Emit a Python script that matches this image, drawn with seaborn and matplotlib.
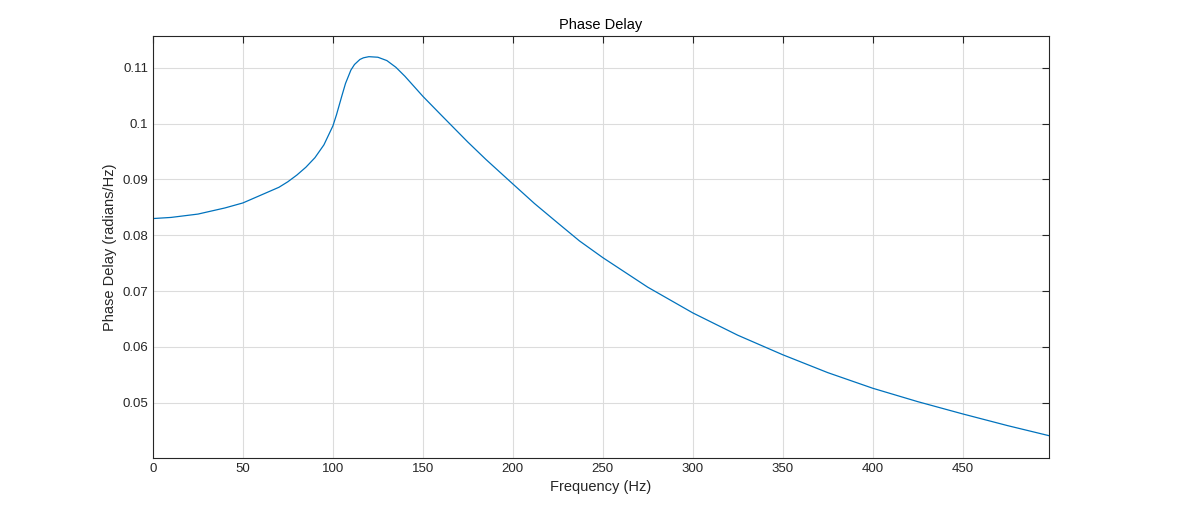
import matplotlib
matplotlib.use("Agg")
import matplotlib.pyplot as plt
import seaborn as sns
import pandas as pd

freq = [0, 10, 25, 40, 50, 60, 70, 75, 80, 85, 90, 95, 100, 102, 105, 107, 110, 112, 115, 117, 120, 125, 130, 135, 140, 145, 150, 160, 175, 185, 200, 212, 225, 237, 250, 275, 300, 325, 350, 375, 400, 425, 450, 475, 498]
delay = [0.0830, 0.0832, 0.0838, 0.0849, 0.0858, 0.0872, 0.0886, 0.0896, 0.0908, 0.0922, 0.0939, 0.0962, 0.0996, 0.1016, 0.1050, 0.1072, 0.1096, 0.1106, 0.1115, 0.1118, 0.1120, 0.1119, 0.1113, 0.1101, 0.1085, 0.1067, 0.1049, 0.1016, 0.0967, 0.0936, 0.0892, 0.0857, 0.0822, 0.0790, 0.0760, 0.0707, 0.0661, 0.0621, 0.0586, 0.0554, 0.0526, 0.0502, 0.0480, 0.0459, 0.0441]

df = pd.DataFrame({"f": freq, "d": delay})
sns.set_style("white")
plt.rcParams['font.family'] = ['Liberation Sans', 'DejaVu Sans']
fig = plt.figure(figsize=(11.84, 5.11), dpi=100)
ax = fig.add_axes([0.1292, 0.1037, 0.7568, 0.8258])
sns.lineplot(data=df, x="f", y="d", ax=ax, color="#0072BD", linewidth=0.9)
ax.set_xlim(0, 498)
ax.set_ylim(0.0401, 0.1157)
ax.set_xticks(range(0, 451, 50))
ax.set_yticks([0.05, 0.06, 0.07, 0.08, 0.09, 0.1, 0.11])
ax.set_yticklabels(["0.05", "0.06", "0.07", "0.08", "0.09", "0.1", "0.11"])
ax.grid(True, color="#dcdcdc", linewidth=0.8)
ax.tick_params(direction="in", top=True, right=True, labelsize=9.5, colors="#262626", length=5)
for s in ax.spines.values():
    s.set_color("#262626"); s.set_linewidth(0.8)
ax.set_xlabel("Frequency (Hz)", fontsize=10.5, color="#262626")
ax.set_ylabel("Phase Delay (radians/Hz)", fontsize=10.5, color="#262626")
ax.set_title("Phase Delay", fontsize=10.5, color="black", pad=5)
fig.savefig("out.png", dpi=100)
